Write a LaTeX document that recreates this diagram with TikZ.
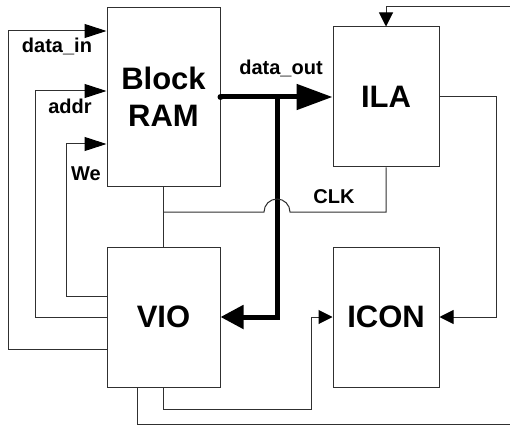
\documentclass[tikz,border=0pt]{standalone}
\usepackage{fontspec}
\setmainfont{Liberation Sans}
\usetikzlibrary{arrows.meta,calc,positioning}
\definecolor{WireGray}{HTML}{303030}
\tikzset{
  block/.style={
    draw=WireGray,
    line width=1pt,
    fill=white,
    align=center,
    font=\fontsize{31}{37}\selectfont\bfseries,
    inner sep=0pt
  },
  wire/.style={draw=WireGray,line width=1pt},
  arrow/.style={wire,->,>={Triangle[length=14pt,width=14pt,color=black]}},
  inarrow/.style={wire,->,>={Triangle[length=22pt,width=14pt,color=black]}},
  bus/.style={draw=black,line width=5pt},
  sig/.style={font=\fontsize{20}{22}\selectfont\bfseries,inner sep=0pt,anchor=base}
}

\begin{document}
\begin{tikzpicture}[x=1pt,y=1pt]
  \useasboundingbox (0,0) rectangle (510,426);
  \node[block,minimum width=113pt,minimum height=178pt] (bram) at (163.5,329) {Block\\RAM};
  \node[block,minimum width=106pt,minimum height=140pt] (ila) at (386,329) {ILA};
  \node[block,minimum width=113pt,minimum height=140pt] (vio) at (163.5,109) {VIO};
  \node[block,minimum width=106pt,minimum height=140pt] (icon) at (386,109) {ICON};

  % VIO drives the RAM ports
  \draw[inarrow] (vio.west |- 0,77) -- (8,77) |- (bram.west |- 0,395);
  \draw[inarrow] (vio.west |- 0,109) -- (35,109) |- (bram.west |- 0,335);
  \draw[inarrow] (vio.west |- 0,130) -- (66,130) |- (bram.west |- 0,282);
  \node[sig] (datain) at (57,373) {data\_in};
  \node[sig] (addr) at (70,312) {addr};
  \node[sig] (we) at (86,246) {We};

  % data bus
  \coordinate (tap) at (277,329);
  \draw[bus,-{Triangle[length=36pt,width=25pt]}] (bram.east) -- (ila.west);
  \fill (bram.east) circle (3);
  \draw[bus,-{Triangle[length=23pt,width=23pt]}] (tap) |- (vio.east);
  \node[sig] (dataout) at (281,351) {data\_out};

  % clock
  \draw[wire] (bram.south) -- (vio.north);
  \draw[wire] (bram.south |- 0,214) -- (264,214) arc[start angle=180,end angle=0,radius=13] -| (ila.south);
  \node[sig] (clk) at (334,223) {CLK};

  % ILA / ICON links
  \coordinate (ilain) at (510,419);
  \coordinate (vioout) at (510,2);
  \draw[arrow] (ilain) -| (ila.north);
  \draw[arrow] (ila.east) -- (496,329) |- (icon.east);
  \draw[arrow] (vio.south) |- (311,17) |- (icon.west);
  \draw[wire] (vio.south -| 137,0) |- (vioout);
\end{tikzpicture}
\end{document}
